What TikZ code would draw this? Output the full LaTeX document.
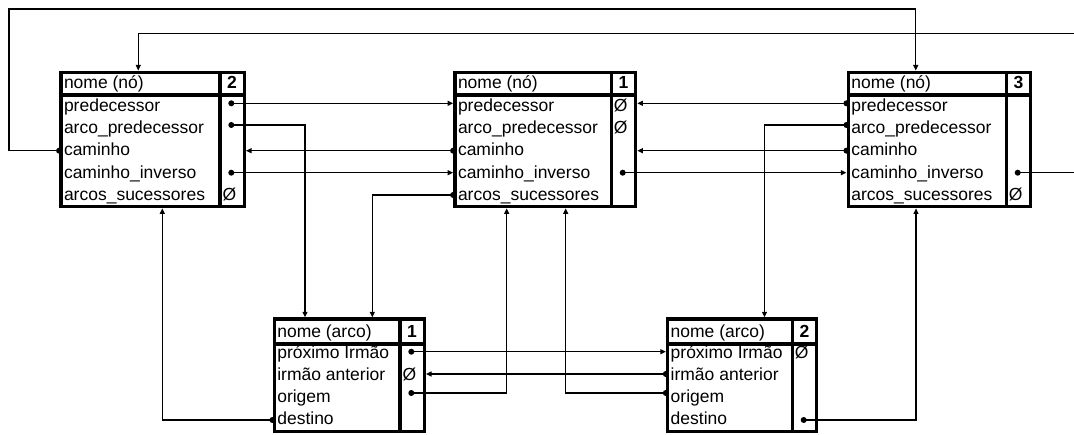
\documentclass[tikz,border=0pt]{standalone}
\usepackage{fontspec}
\setmainfont{Liberation Sans}
\usetikzlibrary{arrows.meta,calc}
\tikzset{
  boxline/.style={line width=3.4pt},
  conn/.style={line width=1.1pt,-{Triangle[length=5.5pt,width=5pt]}},
  lbl/.style={anchor=base west,inner sep=0pt,font=\fontsize{17.5}{20}\selectfont},
  num/.style={anchor=base,inner sep=0pt,font=\fontsize{17.5}{20}\selectfont\bfseries},
  dotfill/.style={fill=black}
}
% #1 name, #2 left, #3 top, #4 right, #5 bottom, #6 header divider y, #7 title, #8 number
\newcommand\RecBox[8]{%
  \draw[boxline] (#2,#3) rectangle (#4,#5);
  \draw[boxline] (#2,#6) -- (#4,#6);
  \draw[boxline] (#4-24.5,#3) -- (#4-24.5,#5);
  \node[lbl] (#1-title) at (#2+2.8,#6-6) {#7};
  \node[num] (#1-num) at (#4-12.25,#6-6) {#8};
}
% #1 name, #2 left, #3 right
\newcommand\NodeRows[3]{%
  \foreach \i/\t/\y/\b in {1/predecessor/103.3/111.5,2/arco\_predecessor/125/133.7,3/caminho/150.7/155.9,4/caminho\_inverso/172.7/178.1,5/arcos\_sucessores/195/200.3}{
    \node[lbl] (#1-r\i) at (#2+2.8,\b) {\t};
    \coordinate (#1-L\i) at (#2-1.9,\y);
    \coordinate (#1-R\i) at (#3+1.7,\y);
    \coordinate (#1-C\i) at (#3-13,\y);
  }%
}
\newcommand\ArcRows[3]{%
  \foreach \i/\t/\y/\b in {1/próximo Irmão/351.7/358.3,2/irmão anterior/374/380.7,3/origem/393/403,4/destino/420/424.3}{
    \node[lbl] (#1-r\i) at (#2+2.8,\b) {\t};
    \coordinate (#1-L\i) at (#2-1.9,\y);
    \coordinate (#1-R\i) at (#3+1.7,\y);
    \coordinate (#1-C\i) at (#3-13,\y);
  }%
}
\begin{document}
\begin{tikzpicture}[x=1pt,y=-1pt]
\useasboundingbox (0,0) rectangle (1074,435);
\clip (0,0) rectangle (1074,435);

% boxes
\RecBox{n2}{61}{72.3}{244.3}{206.7}{95}{nome (nó)}{2}
\NodeRows{n2}{61}{244.3}
\RecBox{n1}{455}{72.3}{635.7}{206.7}{95}{nome (nó)}{1}
\NodeRows{n1}{455}{635.7}
\RecBox{n3}{848.3}{72.3}{1030.7}{206.7}{95}{nome (nó)}{3}
\NodeRows{n3}{848.3}{1030.7}
\RecBox{a1}{274.3}{319}{424.3}{431.7}{344}{nome (arco)}{1}
\ArcRows{a1}{274.3}{424.3}
\RecBox{a2}{667.7}{319}{816.7}{431.7}{344}{nome (arco)}{2}
\ArcRows{a2}{667.7}{816.7}

% null markers
\node[lbl] (n2-z5) at (244.3-24.5+2.5,200.3) {Ø};
\node[lbl] (n1-z1) at (635.7-24.5+2.5,111.5) {Ø};
\node[lbl] (n1-z2) at (635.7-24.5+2.5,133.7) {Ø};
\node[lbl] (n3-z5) at (1030.7-24.5+2.5,200.3) {Ø};
\node[lbl] (a1-z2) at (424.3-24.5+2.5,380.7) {Ø};
\node[lbl] (a2-z1) at (816.7-24.5+2.5,358.3) {Ø};

% free ends / bends
\coordinate (oA) at (9,9);
\coordinate (oB) at (1090,33.3);
\coordinate (n3-top) at (915.7,70.5);
\coordinate (n2-top) at (138.3,70.5);
\coordinate (a1-top1) at (305,317.3);
\coordinate (a1-top2) at (372.3,317.3);
\coordinate (a2-top) at (764.5,317.3);
\coordinate (n2-bot) at (162.3,208.4);
\coordinate (n1-bot1) at (506.7,208.4);
\coordinate (n1-bot2) at (565.7,208.4);
\coordinate (n3-bot) at (916,208.4);

% connectors
\draw[conn] (n2-L3) -| (oA) -| (n3-top);
\draw[conn] (n3-C4) -| (oB) -| (n2-top);
\draw[conn] (n2-C1) -- (n1-L1);
\draw[conn] (n2-C2) -| (a1-top1);
\draw[conn] (n1-L3) -- (n2-R3);
\draw[conn] (n2-C4) -- (n1-L4);
\draw[conn] (n1-L5) -| (a1-top2);
\draw[conn] (n3-L1) -- (n1-R1);
\draw[conn] (n3-L2) -| (a2-top);
\draw[conn] (n3-L3) -- (n1-R3);
\draw[conn] (n1-C4) -- (n3-L4);
\draw[conn] (a1-L4) -| (n2-bot);
\draw[conn] (a1-C1) -- (a2-L1);
\draw[conn] (a2-L2) -- (a1-R2);
\draw[conn] (a1-C3) -| (n1-bot1);
\draw[conn] (a2-L3) -| (n1-bot2);
\draw[conn] (a2-C4) -| (n3-bot);

% dots
\foreach \p in {n2-L3,n2-C1,n2-C2,n2-C4,n1-L3,n1-L5,n3-L1,n3-L2,n3-L3,n1-C4,n3-C4,a1-L4,a1-C1,a2-L2,a1-C3,a2-L3,a2-C4}{
  \fill[dotfill] (\p) circle (3pt);
}
\end{tikzpicture}
\end{document}
